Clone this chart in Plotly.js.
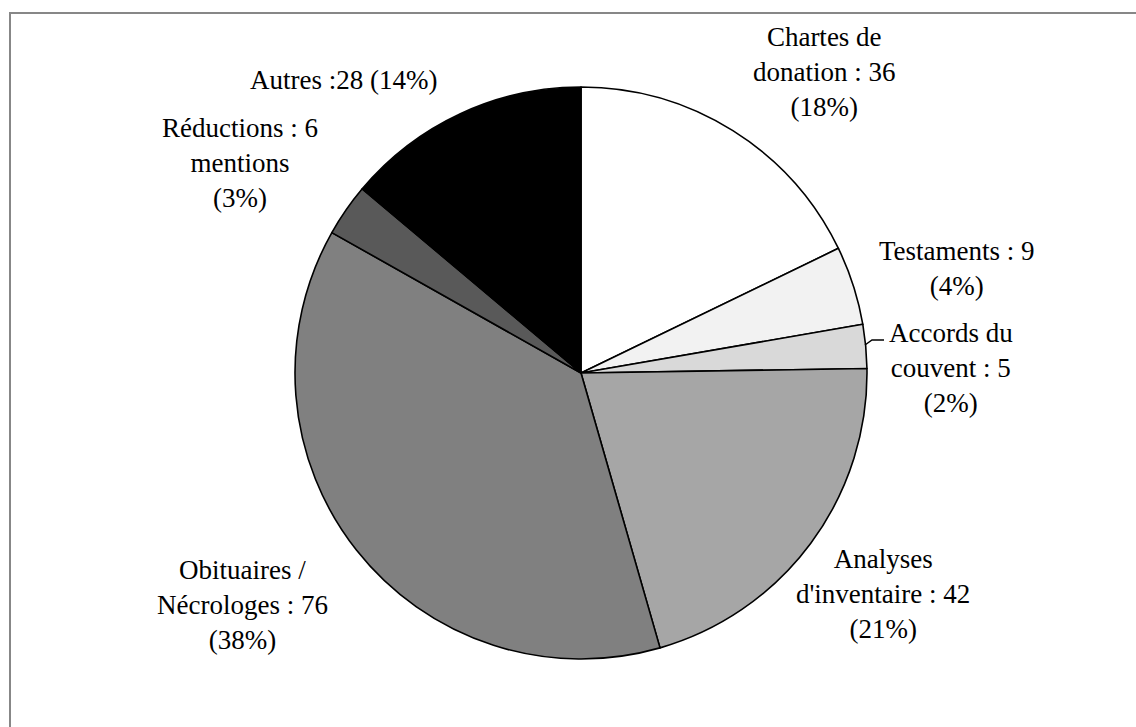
<!DOCTYPE html>
<html>
<head>
<meta charset="utf-8">
<script src="https://cdn.plot.ly/plotly-3.0.1.min.js"></script>
<style>
  html, body { margin: 0; padding: 0; background: #fff; overflow: hidden; }
  #frame { position: absolute; left: 9px; top: 12px; width: 1200px; height: 800px; border: 2px solid #878787; box-sizing: border-box; }
  #chart { position: absolute; left: 0; top: 0; width: 1136px; height: 727px; }
</style>
</head>
<body>
<div id="frame"></div>
<div id="chart"></div>
<script>
// Data
const categories = ["Chartes de donation", "Testaments", "Accords du couvent", "Analyses d'inventaire", "Obituaires / Nécrologes", "Réductions", "Autres"];
const values = [36, 9, 5, 42, 76, 6, 28];
const colors = ["#ffffff", "#f2f2f2", "#d9d9d9", "#a6a6a6", "#808080", "#595959", "#000000"];
const labelTexts = [
  "Chartes de<br>donation : 36<br>(18%)",
  "Testaments : 9<br>(4%)",
  "Accords du<br>couvent : 5<br>(2%)",
  "Analyses<br>d'inventaire : 42<br>(21%)",
  "Obituaires /<br>Nécrologes : 76<br>(38%)",
  "Réductions : 6<br>mentions<br>(3%)",
  "Autres :28 (14%)"
];

// Layout helpers (pixel -> paper)
const W = 1136, H = 727;
const px = x => x / W;
const py = y => 1 - y / H;
const cx = 581, cy = 373, R = 286;

// Label positions (pixel centres)
const labelPos = [
  [825, 72, "center"],
  [957, 268, "center"],
  [887, 368, "left"],
  [883, 594, "center"],
  [242, 605, "center"],
  [240, 163, "center"],
  [343, 80, "center"]
];

const FONT = "Liberation Serif";

const annotations = labelTexts.map((t, i) => ({
  text: t,
  x: px(labelPos[i][0]),
  y: py(labelPos[i][1]),
  xref: "paper", yref: "paper",
  xanchor: labelPos[i][2], yanchor: "middle",
  align: "center",
  showarrow: false,
  font: { family: FONT, size: 27, color: "#000" }
}));

const trace = {
  type: "pie",
  labels: categories,
  values: values,
  sort: false,
  direction: "clockwise",
  rotation: 0,
  marker: { colors: colors, line: { color: "#000", width: 1.6 } },
  textinfo: "none",
  hoverinfo: "label+value+percent",
  domain: { x: [px(cx - R), px(cx + R)], y: [py(cy + R), py(cy - R)] },
  showlegend: false
};

const layout = {
  width: W, height: H,
  margin: { l: 0, r: 0, t: 0, b: 0 },
  paper_bgcolor: "rgba(0,0,0,0)",
  plot_bgcolor: "rgba(0,0,0,0)",
  font: { family: FONT },
  showlegend: false,
  annotations: annotations,
  shapes: [{
    type: "path",
    xref: "paper", yref: "paper",
    path: `M ${px(865)} ${py(345)} L ${px(872)} ${py(340)} L ${px(884)} ${py(340)}`,
    line: { color: "#000", width: 1.5 }
  }]
};

Plotly.newPlot("chart", [trace], layout, { displayModeBar: false, staticPlot: true });
</script>
</body>
</html>
